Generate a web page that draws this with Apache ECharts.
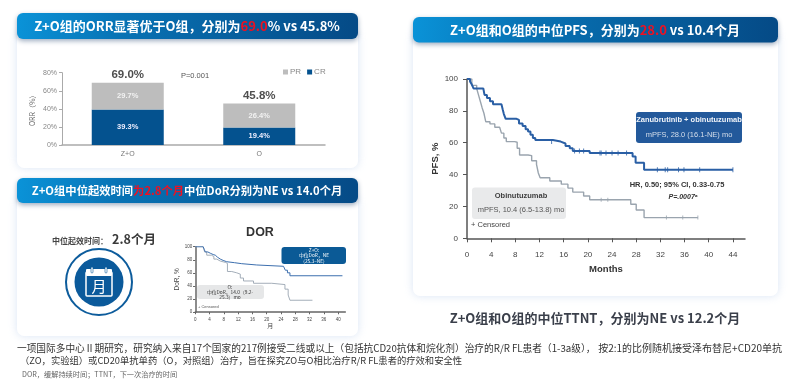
<!DOCTYPE html>
<html>
<head>
<meta charset="utf-8">
<style>
  html, body { margin: 0; padding: 0; background: #fff; }
  #chart { width: 800px; height: 391px; }
</style>
</head>
<body>
<div id="chart"></div>
<script src="https://cdn.jsdelivr.net/npm/echarts@6/dist/echarts.min.js"></script>
<script>
// ORR bars
const orrCategories = ["Z+O", "O"];
const crValues = [39.3, 19.4];
const prValues = [29.7, 26.4];
const orrTotals = [69.0, 45.8];
const orrTicks = [0, 20, 40, 60, 80];

// DOR curves (months / percent)
const dorTicksX = [0, 4, 8, 12, 16, 20, 24, 28, 32, 36, 40];
const dorTicksY = [0, 20, 40, 60, 80, 100];
const dorBlueMonths = [0, 2.2, 2.5, 2.8, 3.5, 4.2, 5, 5.6, 6.2, 7, 7.8, 8.8, 11, 13, 17.2, 24.7, 25.2, 25.8, 26.5, 41.2];
const dorBlueValues = [100, 100, 96, 92, 90, 88, 87, 84, 81, 79, 77, 75.5, 74, 72, 70, 69.5, 64, 60, 55.5, 55];
const dorGrayMonths = [0, 2.2, 2.6, 3.2, 4.5, 5.2, 6, 7, 8.4, 9, 10.2, 11.6, 12.6, 13.5, 16.3, 21.4, 25.1, 26, 26.5, 32.8];
const dorGrayValues = [100, 100, 92, 87, 85, 81, 78, 76, 74.5, 62, 60, 58, 52, 47.5, 44, 42, 35, 26, 18, 18];

// PFS curves (months / percent)
const pfsTicksX = [0, 4, 8, 12, 16, 20, 24, 28, 32, 36, 40, 44];
const pfsTicksY = [0, 20, 40, 60, 80, 100];
const pfsBlueMonths = [0, 0.5, 0.8, 1.1, 2.7, 2.9, 3.3, 3.8, 4.3, 5.7, 5.9, 6.1, 6.4, 8.2, 8.6, 9.2, 9.7, 10.1, 10.5, 10.9, 11.3, 14.2, 15.5, 16.3, 17, 17.5, 19.8, 20.3, 27.4, 27.9, 29.3, 44];
const pfsBlueValues = [100, 98.5, 96.5, 94, 93, 90, 88, 86, 84.2, 83.7, 81, 78, 75, 74.3, 72, 70.5, 68.5, 67, 65, 63, 61.7, 60.7, 59.5, 58, 56.5, 54.8, 54.8, 53.5, 51.3, 47.5, 43, 43];
const pfsBlueCensorMonths = [14, 17.8, 18.6, 19.3, 22, 22.2, 23, 24, 25, 26.4, 31.5, 32.8, 33.2, 35, 35.9, 38.5, 44];
const pfsBlueCensorValues = [60.7, 54.8, 54.8, 54.8, 53.5, 53.5, 53.5, 53.5, 53.5, 53.5, 43, 43, 43, 43, 43, 43, 43];
const pfsGrayMonths = [0, 0.8, 1.6, 1.9, 2.2, 2.5, 2.8, 3.1, 3.8, 4.6, 5.4, 5.7, 6.1, 6.5, 7.9, 8.3, 8.7, 10.1, 10.7, 11.5, 11.8, 12.1, 13.7, 15.6, 16.7, 17.5, 19.3, 20.3, 27.1, 28, 29.3, 38.2];
const pfsGrayValues = [100, 96, 94, 90, 86, 82, 78.5, 73.2, 71.8, 69.7, 69, 66, 63, 60.7, 60.3, 56.5, 52.3, 51.9, 48.7, 46.4, 41, 38, 36, 34, 31.5, 29, 26.6, 24.2, 21.4, 17.8, 13, 13];
const pfsGrayCensorMonths = [22.2, 23.3, 33, 35.7, 38.2];
const pfsGrayCensorValues = [24.2, 24.2, 13, 13, 13];

const zip = (xs, ys) => xs.map((x, i) => [x, ys[i]]);
const CJK = '"Noto Sans CJK SC", "Liberation Sans", sans-serif';
const LATIN = '"Liberation Sans", Arial, sans-serif';

function headerBar(x, y, w, h) {
  return {
    type: "rect",
    z: 2,
    shape: { x: x, y: y, width: w, height: h, r: 6 },
    style: {
      fill: new echarts.graphic.LinearGradient(0, 0, 1, 1, [
        { offset: 0, color: "#0a93d8" },
        { offset: 0.3, color: "#0873b5" },
        { offset: 1, color: "#054a86" },
      ]),
      shadowBlur: 5,
      shadowColor: "rgba(60,90,130,0.5)",
      shadowOffsetY: 2,
    },
  };
}

function card(x, y, w, h) {
  return {
    type: "rect",
    z: 1,
    shape: { x: x, y: y, width: w, height: h, r: 7 },
    style: { fill: "#fff", shadowBlur: 8, shadowColor: "rgba(170,195,230,0.45)" },
  };
}

function box(x, y, w, h, fill) {
  return { type: "rect", z: 2, shape: { x: x, y: y, width: w, height: h, r: 3 }, style: { fill: fill } };
}

function label(x, y, text, size, color, opts) {
  return {
    type: "text",
    z: 20,
    x: x,
    y: y,
    style: Object.assign({
      text: text,
      fontSize: size,
      fill: color,
      fontFamily: CJK,
      align: "center",
      verticalAlign: "middle",
    }, opts || {}),
  };
}

function titleText(x, y, text, size) {
  const base = { fontSize: size, fontWeight: "bold", fontFamily: CJK };
  return label(x, y, text, size, "#fff", {
    fontWeight: "bold",
    rich: {
      w: Object.assign({ fill: "#fff", color: "#fff" }, base),
      r: Object.assign({ fill: "#ee1122", color: "#ee1122" }, base),
    },
  });
}

const graphics = [
  card(17, 30, 341, 138),
  card(17, 195, 341, 141),
  card(413, 30, 365, 266),
  headerBar(17, 13, 341, 26),
  headerBar(17, 178, 341, 25),
  headerBar(413, 17, 365, 25.5),
  titleText(187, 26.5, "{w|Z+O组的ORR显著优于O组，分别为}{r|69.0}{w|% vs 45.8%}", 13),
  titleText(187, 191, "{w|Z+O组中位起效时间}{r|为2.8个月}{w|中位DoR分别为NE vs 14.0个月}", 11.3),
  titleText(595, 30, "{w|Z+O组和O组的中位PFS，分别为}{r|28.0}{w| vs 10.4个月}", 13),
  label(195, 76, "P=0.001", 7.5, "#555", { fontFamily: LATIN }),

  label(80, 241, "中位起效时间：", 8, "#444", { fontWeight: "bold" }),
  label(134, 239.5, "2.8个月", 12.5, "#3a3a3a", { fontWeight: "bold" }),
  { type: "circle", z: 2, shape: { cx: 99, cy: 282, r: 33 }, style: { fill: "#fff", stroke: "#0d5c9c", lineWidth: 2 } },
  { type: "circle", z: 2, shape: { cx: 99, cy: 282, r: 24.5 }, style: { fill: "#0b5a9b" } },
  { type: "rect", z: 3, shape: { x: 86, y: 272, width: 26, height: 24, r: 1 }, style: { fill: "#0b5a9b", stroke: "#fff", lineWidth: 1.5 } },
  { type: "rect", z: 3, shape: { x: 86, y: 269, width: 26, height: 7, r: 1 }, style: { fill: "#fff" } },
  { type: "rect", z: 4, shape: { x: 91, y: 267, width: 2, height: 6, r: 1 }, style: { fill: "#fff", stroke: "#0b5a9b", lineWidth: 0.6 } },
  { type: "rect", z: 4, shape: { x: 105, y: 267, width: 2, height: 6, r: 1 }, style: { fill: "#fff", stroke: "#0b5a9b", lineWidth: 0.6 } },
  label(99, 286, "月", 15, "#fff"),

  label(260, 233, "DOR", 12.5, "#333", { fontWeight: "bold", fontFamily: LATIN }),
  box(281.5, 247, 64.5, 17, "#0b5a96"),
  label(314, 255.5, "Z+O:\n中位DoR，NE\n(25.3–NE)", 4.8, "#fff", { lineHeight: 5.6 }),
  box(197, 285, 67, 14, "#e6e7e8"),
  label(230, 292, "O:\n中位DoR，14.0（9.2-\n25.3）mo", 4.8, "#333", { lineHeight: 5 }),
  label(198, 306.5, "+ Censored", 4, "#555", { align: "left", fontFamily: LATIN }),

  box(636, 112, 106, 31, "#23599b"),
  label(689, 120, "Zanubrutinib + obinutuzumab", 7.5, "#f0f4fa", { fontWeight: "bold", fontFamily: LATIN }),
  label(689, 134.5, "mPFS, 28.0 (16.1-NE) mo", 7.5, "#d5deeb", { fontFamily: LATIN }),
  box(472, 187.5, 94, 31.5, "#e9eaeb"),
  label(521, 195.5, "Obinutuzumab", 7.5, "#3d3d3d", { fontWeight: "bold", fontFamily: LATIN }),
  label(521, 210, "mPFS, 10.4 (6.5-13.8) mo", 7.5, "#555", { fontFamily: LATIN }),
  label(471, 224.5, "+ Censored", 7.5, "#444", { align: "left", fontFamily: LATIN }),
  label(677, 185, "HR, 0.50; 95% CI, 0.33-0.75", 7.5, "#333", { fontFamily: LATIN, fontWeight: "bold" }),
  label(683, 197.5, "P=.0007ᵃ", 7, "#333", { fontFamily: LATIN, fontWeight: "bold", fontStyle: "italic" }),

  label(595, 318, "Z+O组和O组的中位TTNT，分别为NE vs 12.2个月", 13, "#3a3f4a", { fontWeight: "bold" }),
  label(17, 348, "一项国际多中心Ⅱ期研究，研究纳入来自17个国家的217例接受二线或以上（包括抗CD20抗体和烷化剂）治疗的R/R FL患者（1-3a级），", 9.7, "#333", { align: "left" }),
  label(782, 348, "按2:1的比例随机接受泽布替尼+CD20单抗", 10, "#333", { align: "right" }),
  label(20, 360, "（ZO，实验组）或CD20单抗单药（O，对照组）治疗，旨在探究ZO与O相比治疗R/R FL患者的疗效和安全性", 9.3, "#333", { align: "left" }),
  label(22, 374, "DOR，缓解持续时间；TTNT，下一次治疗的时间", 7.2, "#666", { align: "left" }),
];

function valueX(index, max, ticks, lineColor, size, margin) {
  return {
    type: "value",
    gridIndex: index,
    z: 8,
    min: 0,
    max: max,
    axisLine: { show: true, lineStyle: { color: lineColor, width: 1.5 } },
    axisTick: { show: true, length: size / 2, inside: false, customValues: ticks, lineStyle: { color: lineColor } },
    axisLabel: { customValues: ticks, fontSize: size, color: "#444", margin: margin, fontFamily: LATIN },
    splitLine: { show: false },
  };
}

function valueY(index, ticks, lineColor, size, margin) {
  return {
    type: "value",
    gridIndex: index,
    z: 8,
    min: 0,
    max: 100,
    interval: 20,
    axisLine: { show: true, lineStyle: { color: lineColor, width: 1.5 } },
    axisTick: { show: true, length: size / 2, lineStyle: { color: lineColor } },
    axisLabel: { fontSize: size, color: "#444", margin: margin, fontFamily: LATIN },
    splitLine: { show: false },
  };
}

function curve(name, index, data, color, width) {
  return {
    name: name,
    type: "line",
    xAxisIndex: index,
    yAxisIndex: index,
    step: "end",
    showSymbol: false,
    data: data,
    z: 9,
    lineStyle: { color: color, width: width },
    itemStyle: { color: color },
  };
}

function censor(name, index, data, color, size) {
  return {
    name: name,
    type: "scatter",
    xAxisIndex: index,
    yAxisIndex: index,
    symbol: "rect",
    symbolSize: [1, size],
    data: data,
    z: 10,
    itemStyle: { color: color },
  };
}

const option = {
  animation: false,
  backgroundColor: "#fff",
  textStyle: { fontFamily: LATIN },
  graphic: { elements: graphics },
  legend: {
    data: [{ name: "PR" }, { name: "CR" }],
    left: 278,
    top: 63,
    itemWidth: 5,
    itemHeight: 5,
    itemGap: 6,
    icon: "rect",
    textStyle: { fontSize: 8, color: "#888", padding: [0, 0, 0, -3] },
  },
  grid: [
    { left: 62, top: 72.7, width: 263, height: 72.3, outerBoundsMode: "none" },
    { left: 195.3, top: 246.7, width: 150, height: 65.3, outerBoundsMode: "none" },
    { left: 467, top: 79, width: 278, height: 159.3, outerBoundsMode: "none" },
  ],
  xAxis: [
    {
      type: "category",
      gridIndex: 0,
      z: 8,
      data: orrCategories,
      axisLine: { lineStyle: { color: "#aaa", width: 1.5 } },
      axisTick: { show: false },
      axisLabel: { fontSize: 7, color: "#777", margin: 6 },
    },
    Object.assign(valueX(1, 42, dorTicksX, "#666", 4.5, 5), {
      name: "月",
      nameLocation: "middle",
      nameGap: 8,
      nameTextStyle: { fontSize: 6, color: "#444", fontFamily: CJK },
    }),
    Object.assign(valueX(2, 46, pfsTicksX, "#555", 8, 12), {
      name: "Months",
      nameLocation: "middle",
      nameGap: 26,
      nameTextStyle: { fontSize: 9.5, fontWeight: "bold", color: "#333" },
    }),
  ],
  yAxis: [
    {
      type: "value",
      gridIndex: 0,
      z: 8,
      min: 0,
      max: 80,
      interval: 20,
      name: "ORR（%）",
      nameLocation: "middle",
      nameRotate: 90,
      nameGap: 26,
      nameTextStyle: { fontSize: 7, color: "#666", fontFamily: CJK },
      axisLine: { show: true, lineStyle: { color: "#aaa", width: 1 } },
      axisTick: { show: true, length: 3, lineStyle: { color: "#aaa" } },
      axisLabel: { fontSize: 7, color: "#888", margin: 5, formatter: "{value}%", customValues: orrTicks },
      splitLine: { show: false },
    },
    Object.assign(valueY(1, dorTicksY, "#666", 4.5, 3), {
      name: "DoR, %",
      nameLocation: "middle",
      nameRotate: 90,
      nameGap: 10,
      nameTextStyle: { fontSize: 6.5, color: "#444" },
    }),
    Object.assign(valueY(2, pfsTicksY, "#555", 8, 9), {
      name: "PFS, %",
      nameLocation: "middle",
      nameRotate: 90,
      nameGap: 18,
      nameTextStyle: { fontSize: 9.5, fontWeight: "bold", color: "#333" },
    }),
  ],
  series: [
    {
      name: "CR",
      type: "bar",
      stack: "orr",
      xAxisIndex: 0,
      yAxisIndex: 0,
      barWidth: 72,
      data: crValues,
      z: 9,
      itemStyle: { color: "#04528f" },
      label: { show: true, position: "inside", fontSize: 7.5, fontWeight: "bold", color: "#eef", formatter: (p) => p.value.toFixed(1) + "%" },
    },
    {
      name: "PR",
      type: "bar",
      stack: "orr",
      xAxisIndex: 0,
      yAxisIndex: 0,
      barWidth: 72,
      data: prValues,
      z: 9,
      itemStyle: { color: "#bdbdbd" },
      label: { show: true, position: "inside", fontSize: 7.5, fontWeight: "bold", color: "#f2f2f2", formatter: (p) => p.value.toFixed(1) + "%" },
    },
    {
      name: "Total",
      type: "scatter",
      xAxisIndex: 0,
      yAxisIndex: 0,
      symbolSize: 0,
      data: orrTotals,
      z: 10,
      label: { show: true, position: "top", distance: 2, fontSize: 11.5, fontWeight: "bold", color: "#222", formatter: (p) => p.value.toFixed(1) + "%" },
    },
    curve("DOR O", 1, zip(dorGrayMonths, dorGrayValues), "#9aa5b1", 0.9),
    curve("DOR Z+O", 1, zip(dorBlueMonths, dorBlueValues), "#3d6fae", 1),
    curve("PFS O", 2, zip(pfsGrayMonths, pfsGrayValues), "#9aa4ae", 1.4),
    censor("PFS O censored", 2, zip(pfsGrayCensorMonths, pfsGrayCensorValues), "#9aa4ae", 4),
    curve("PFS Z+O", 2, zip(pfsBlueMonths, pfsBlueValues), "#2a5fa5", 2),
    censor("PFS Z+O censored", 2, zip(pfsBlueCensorMonths, pfsBlueCensorValues), "#2a5fa5", 5),
  ],
};

const myChart = echarts.init(document.getElementById("chart"), null, { renderer: "canvas" });
myChart.setOption(option);
</script>
</body>
</html>
